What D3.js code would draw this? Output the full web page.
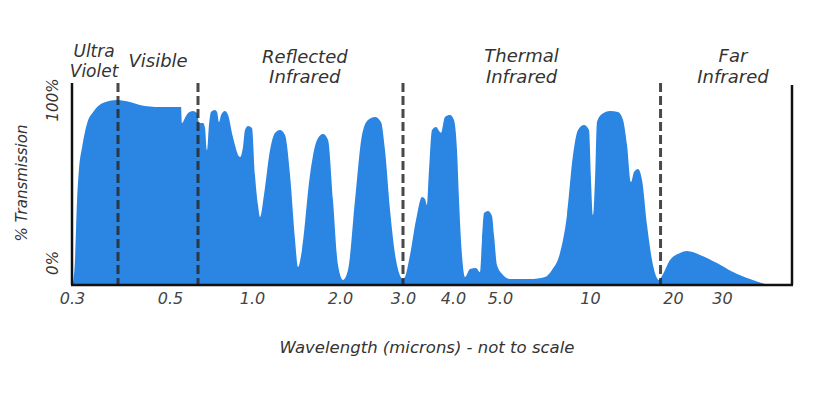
<!DOCTYPE html>
<meta charset="utf-8">
<style>
body { margin: 0; background: #fff; }
text { font-family: "DejaVu Sans", sans-serif; font-style: italic; fill: #333; }
.axis-line { stroke: #111; stroke-width: 2.5px; }
.band { stroke: #2a2a2a; stroke-width: 3px; stroke-dasharray: 9,4; opacity: 0.85; }
</style>
<body>
<script src="https://d3js.org/d3.v7.min.js"></script>
<script>

// wavelength (microns) and % transmission
var wavelength = [0.302, 0.3065, 0.311, 0.315, 0.322, 0.333, 0.346, 0.367, 0.398,
  0.423, 0.442, 0.481, 0.579, 0.586, 0.607, 0.629, 0.664, 0.693, 0.706, 0.728,
  0.739, 0.75, 0.761, 0.772, 0.794, 0.806, 0.817, 0.828, 0.85, 0.867, 0.894,
  0.933, 0.95, 0.961, 0.978, 1.0, 1.034, 1.068, 1.091, 1.136, 1.205, 1.261,
  1.318, 1.375, 1.432, 1.489, 1.523, 1.568, 1.659, 1.739, 1.807, 1.864, 1.92,
  1.977, 2.048, 2.127, 2.238, 2.349, 2.444, 2.556, 2.651, 2.714, 2.794, 2.889,
  3.0, 3.04, 3.14, 3.26, 3.38, 3.44, 3.48, 3.52, 3.58, 3.66, 3.74, 3.76, 3.84,
  3.94, 4.02, 4.085, 4.128, 4.191, 4.255, 4.362, 4.489, 4.574, 4.617, 4.66,
  4.745, 4.83, 4.872, 4.936, 5.167, 5.556, 6.667, 7.5, 7.889, 8.333, 8.722,
  9.056, 9.333, 9.667, 9.944, 10.12, 10.36, 10.6, 10.84, 11.45, 12.41, 13.37,
  13.98, 14.46, 14.94, 15.3, 15.78, 16.27, 16.87, 17.59, 18.31, 18.67, 19.64,
  21.43, 22.86, 25.51, 28.98, 32.2, 35.6, 38.6];
var transmission = [0, 13, 45.7, 62, 74.5, 87.5, 93.5, 98.4, 100,
  98.9, 97.3, 96.2, 96.2, 87.5, 90.2, 92.9, 94, 92.9, 87.5, 87.5,
  84.8, 72.8, 86.4, 93.5, 94.6, 93.5, 88, 91.8, 94, 91.8, 79.9,
  69, 74.5, 83.7, 85.9, 84.8, 59.2, 42.9, 36.4, 48.4, 72.8, 82.1,
  83.7, 81, 59.2, 23.9, 9.2, 18.5, 59.2, 78.3, 81.5, 78.3, 45.7,
  10.3, 2.2, 7.6, 45.7, 81, 89.1, 90.8, 88, 72.8, 40.2, 13,
  2.7, 3.8, 15.8, 34.8, 47.3, 46.2, 42.9, 62, 83.7, 85.3, 82.6, 82.1, 90.8,
  91.8, 89.1, 72.8, 45.7, 15.8, 3.8, 8.2, 8.7, 6.5, 23.9, 38.6,
  39.7, 37, 26.6, 10.3, 4.9, 2.7, 2.7, 3.8, 7.6, 16.8, 37.5,
  70.1, 83.7, 86.4, 83.7, 56.5, 37.5, 56.5, 88, 92.4, 94, 93.5,
  89.1, 75.5, 55.4, 60.9, 62.5, 56.5, 32.1, 10.3, 2.2, 4.3, 13,
  16.8, 17.9, 15.8, 11.4, 6.5, 2.7, 0];

// the axis is "not to scale": break points and tick labels
var scaleBreaks = [0.3, 0.4, 0.5, 0.7, 1, 2, 3, 4, 5, 10, 20, 30, 40];
var tickValues = [0.3, 0.5, 1, 2, 3, 4, 5, 10, 20, 30];
var tickLabels = ["0.3", "0.5", "1.0", "2.0", "3.0", "4.0", "5.0", "10", "20", "30"];

// region boundaries and names
var boundaries = [0.4, 0.7, 3, 18.5];
var regionNames = [["Ultra", "Violet"], ["Visible"], ["Reflected", "Infrared"],
  ["Thermal", "Infrared"], ["Far", "Infrared"]];
var regionCenters = [0.348, 0.477, 1.6, 6.2, 32.2];

var width = 822, height = 394;
var plotLeft = 72, plotRight = 792, plotTop = 83, plotBottom = 284;

var x = d3.scaleLinear()
  .domain(scaleBreaks)
  .range([72, 118, 170, 198, 252, 340, 403, 453, 500, 590, 673, 722, 772]);

var y = d3.scaleLinear().domain([0, 100]).range([plotBottom, 100]);

var svg = d3.select("body").append("svg")
  .attr("width", width)
  .attr("height", height);

var data = wavelength.map(function(w, i) { return {w: w, t: transmission[i]}; });

// transmission area
var area = d3.area()
  .x(function(d) { return x(d.w); })
  .y0(y(0))
  .y1(function(d) { return y(d.t); })
  .curve(d3.curveMonotoneX);

svg.append("path")
  .datum(data)
  .attr("fill", "#2b85e3")
  .attr("d", area);

// dashed region boundaries
svg.selectAll(".band")
  .data(boundaries)
  .enter().append("line")
    .attr("class", "band")
    .attr("x1", function(d) { return x(d); })
    .attr("x2", function(d) { return x(d); })
    .attr("y1", plotTop)
    .attr("y2", plotBottom);

// frame: left, bottom, right
svg.append("line").attr("class", "axis-line")
  .attr("x1", plotLeft).attr("x2", plotLeft).attr("y1", plotTop).attr("y2", plotBottom + 1);
svg.append("line").attr("class", "axis-line")
  .attr("x1", plotLeft - 1).attr("x2", plotRight + 1).attr("y1", plotBottom + 1).attr("y2", plotBottom + 1);
svg.append("line").attr("class", "axis-line")
  .attr("x1", plotRight).attr("x2", plotRight).attr("y1", plotTop + 2).attr("y2", plotBottom + 1);

// x axis ticks
var xAxis = d3.axisBottom(x)
  .tickValues(tickValues)
  .tickSize(0)
  .tickPadding(0)
  .tickFormat(function(d, i) { return tickLabels[i]; });

var gx = svg.append("g")
  .attr("transform", "translate(0," + (plotBottom + 20) + ")")
  .call(xAxis);
gx.select(".domain").remove();
gx.selectAll("text")
  .attr("dy", null)
  .attr("y", 0)
  .style("font-family", "DejaVu Sans, sans-serif")
  .style("font-style", "italic")
  .style("font-size", "16px")
  .style("fill", "#444");

// y labels
svg.append("text")
  .attr("transform", "translate(53," + y(100) + ") rotate(-90)")
  .attr("text-anchor", "middle")
  .attr("dy", "0.35em")
  .style("font-size", "15px")
  .text("100%");
svg.append("text")
  .attr("transform", "translate(53," + (y(0) - 21) + ") rotate(-90)")
  .attr("text-anchor", "middle")
  .attr("dy", "0.35em")
  .style("font-size", "15px")
  .text("0%");
svg.append("text")
  .attr("transform", "translate(22,183) rotate(-90)")
  .attr("text-anchor", "middle")
  .attr("dy", "0.35em")
  .style("font-size", "15px")
  .text("% Transmission");

// x title
svg.append("text")
  .attr("x", 427)
  .attr("y", 353)
  .attr("text-anchor", "middle")
  .style("font-size", "16.5px")
  .text("Wavelength (microns) - not to scale");

// region names
var baselines = [[57, 77], [67], [63, 83], [62, 83], [62, 83]];
regionNames.forEach(function(lines, i) {
  lines.forEach(function(s, j) {
    svg.append("text")
      .attr("x", x(regionCenters[i]))
      .attr("y", baselines[i][j])
      .attr("text-anchor", "middle")
      .style("font-size", i === 0 ? "17px" : "18px")
      .text(s);
  });
});

</script>
</body>
